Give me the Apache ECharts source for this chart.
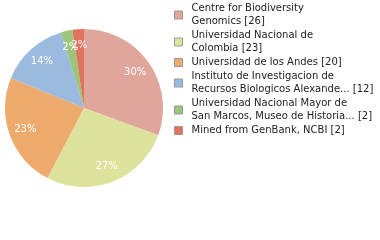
<!DOCTYPE html>
<html><head><meta charset="utf-8">
<script src="https://cdn.jsdelivr.net/npm/echarts@6/dist/echarts.min.js"></script>
<style>html,body{margin:0;padding:0;background:#fff}#c{width:380px;height:240px}</style>
</head><body><div id="c"></div>
<script>
const categories = [
  "Centre for Biodiversity\nGenomics",
  "Universidad Nacional de\nColombia",
  "Universidad de los Andes",
  "Instituto de Investigacion de\nRecursos Biologicos Alexande...",
  "Universidad Nacional Mayor de\nSan Marcos, Museo de Historia...",
  "Mined from GenBank, NCBI"
];
const values = [26, 23, 20, 12, 2, 2];
const colors = ["#e0a69c", "#dde39d", "#eeab6e", "#9abadf", "#9cc57b", "#e0735d"];

const total = values.reduce((a, b) => a + b, 0);
const data = categories.map((n, i) => ({ name: n, value: values[i], itemStyle: { color: colors[i] } }));
const labelData = categories.map((n, i) => ({ name: n, value: values[i] }));
const font = "DejaVu Sans";

const chart = echarts.init(document.getElementById('c'), null, { renderer: 'canvas' });
chart.setOption({
  animation: false,
  legend: {
    orient: 'vertical',
    left: 174, top: 2, padding: 0,
    itemWidth: 8, itemHeight: 8, itemGap: 1,
    icon: 'rect',
    itemStyle: { borderColor: '#999', borderWidth: 1 },
    data: categories,
    formatter: function (name) { return name + ' [' + values[categories.indexOf(name)] + ']'; },
    textStyle: { fontFamily: font, fontSize: 10, color: '#222', lineHeight: 13, padding: [0, 0, 0, 4] }
  },
  series: [{
    type: 'pie', center: [84, 108], radius: 79, startAngle: 90, clockwise: true,
    data: data, label: { show: false }, labelLine: { show: false },
    emphasis: { disabled: true }, silent: true
  }, {
    type: 'pie', center: [84, 108], radius: [40, 79], startAngle: 90, clockwise: true,
    data: labelData, itemStyle: { color: 'rgba(0,0,0,0)' },
    labelLine: { show: false }, silent: true, legendHoverLink: false,
    avoidLabelOverlap: false,
    labelLayout: { hideOverlap: false },
    label: {
      show: true, position: 'inside', color: '#fff', fontFamily: font, fontSize: 10,
      formatter: function (p) { return Math.floor(p.value / total * 100) + '%'; }
    }
  }]
});
</script></body></html>
